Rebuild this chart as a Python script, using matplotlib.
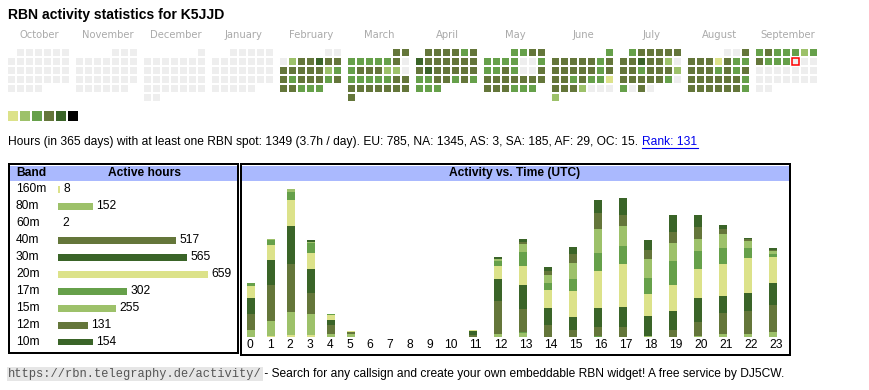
import calendar
import numpy as np
import matplotlib
matplotlib.use("Agg")
import matplotlib.pyplot as plt
from matplotlib.patches import Rectangle
from matplotlib import transforms

plt.rcParams['font.family'] = ['Liberation Sans', 'DejaVu Sans']

W, H = 870, 390
PT = 0.72  # pixels -> points at dpi 100

# ---- data ----
callsign = "K5JJD"
month_names = ["October", "November", "December", "January", "February", "March",
               "April", "May", "June", "July", "August", "September"]
month_years = [(2024, 10), (2024, 11), (2024, 12), (2025, 1), (2025, 2), (2025, 3),
               (2025, 4), (2025, 5), (2025, 6), (2025, 7), (2025, 8), (2025, 9)]
# activity level per day (0 = none, 1..5 = legend colours)
month_levels = [
    "0" * 31,
    "0" * 30,
    "0" * 31,
    "0" * 31,
    "00" + "0244544" + "4444423" + "4344434" + "44333",
    "44" + "3333340" + "3444220" + "3333344" + "4444444" + "4",
    "444434" + "5444444" + "4544444" + "3344343" + "333",
    "3344" + "3333003" + "3343004" + "4444444" + "444333",
    "3" + "4444434" + "4444434" + "4434331" + "4442000" + "2",
    "344444" + "4454420" + "4434442" + "4444430" + "3040",
    "004" + "4441433" + "4443434" + "4444443" + "4444443",
    "3433323" + "4333000" + "0" * 16,
]
today = (2025, 9, 12)
level_colors = ['#eeeeee', '#dce28a', '#9dc16a', '#66a04a', '#64763a', '#3a6428', '#000000']

summary = ("Hours (in 365 days) with at least one RBN spot: 1349 (3.7h / day). "
           "EU: 785, NA: 1345, AS: 3, SA: 185, AF: 29, OC: 15. ")
rank_text = "Rank: 131"

bands = ["160m", "80m", "60m", "40m", "30m", "20m", "17m", "15m", "12m", "10m"]
band_hours = [8, 152, 2, 517, 565, 659, 302, 255, 131, 154]
band_colors = ['#dce28a', '#9dc16a', '#66a04a', '#64763a', '#3a6428',
               '#dce28a', '#66a04a', '#9dc16a', '#64763a', '#3a6428']

hours = np.arange(24)
h160 = [0, 1, 4, 3, 0, 0, 0, 0, 0, 0, 0, 0, 0, 0, 0, 0, 0, 0, 0, 0, 0, 0, 0, 0]
h80 = [12, 25, 37, 34, 5, 5, 0, 0, 0, 0, 0, 0, 5, 7, 0, 0, 0, 0, 2, 0, 2, 5, 5, 8]
h60 = [0, 0, 0, 0, 0, 0, 0, 0, 0, 0, 0, 0, 0, 1, 0, 0, 1, 0, 0, 0, 0, 0, 0, 0]
h40 = [26, 58, 77, 34, 14, 3, 0, 0, 0, 0, 0, 4, 54, 37, 19, 11, 16, 16, 0, 11, 22, 34, 37, 44]
h30 = [26, 41, 62, 39, 8, 0, 0, 0, 0, 0, 0, 5, 36, 39, 28, 22, 30, 33, 32, 31, 39, 28, 30, 36]
h20 = [19, 25, 43, 27, 8, 2, 0, 0, 0, 0, 0, 3, 21, 32, 30, 41, 60, 70, 36, 43, 48, 52, 57, 42]
h17 = [5, 8, 13, 15, 2, 0, 0, 0, 0, 0, 0, 0, 8, 22, 11, 21, 29, 29, 26, 38, 29, 26, 15, 5]
h15 = [0, 2, 4, 3, 0, 0, 0, 0, 0, 0, 0, 0, 3, 13, 12, 25, 40, 33, 30, 30, 20, 23, 12, 5]
h12 = [0, 0, 0, 0, 0, 0, 0, 0, 0, 0, 0, 0, 0, 3, 7, 15, 25, 18, 15, 18, 18, 7, 3, 2]
h10 = [0, 0, 0, 2, 0, 0, 0, 0, 0, 0, 0, 0, 3, 5, 7, 12, 22, 27, 17, 28, 20, 7, 2, 2]
hourly = [h160, h80, h60, h40, h30, h20, h17, h15, h12, h10]


def px_rect(x, y, w, h):
    return [x / W, 1 - (y + h) / H, w / W, h / H]


fig = plt.figure(figsize=(W / 100, H / 100), dpi=100)
canvas = fig.add_axes([0, 0, 1, 1])
canvas.set_xlim(0, W)
canvas.set_ylim(H, 0)
canvas.axis('off')

# title
canvas.text(8, 15, f"RBN activity statistics for {callsign}", fontsize=14 * PT,
            fontweight='bold', va='center', ha='left')

# calendar heatmap
for m, (name, (yr, mo), levels) in enumerate(zip(month_names, month_years, month_levels)):
    x0 = 8 + 68 * m
    canvas.text(x0 + 31.5, 35, name, fontsize=10 * PT, color='#aaaaaa',
                ha='center', va='center', family='DejaVu Sans')
    first_wd, ndays = calendar.monthrange(yr, mo)
    for d in range(ndays):
        idx = first_wd + d
        col, row = idx % 7, idx // 7
        lvl = int(levels[d])
        is_today = (yr, mo, d + 1) == today
        canvas.add_patch(Rectangle((x0 + col * 9, 49 + row * 9), 7, 7,
                                   facecolor=level_colors[lvl],
                                   edgecolor='red' if is_today else 'none',
                                   linewidth=1.1 if is_today else 0))

# legend squares
for i, c in enumerate(level_colors[1:]):
    canvas.add_patch(Rectangle((8 + 12 * i, 111), 10, 10, facecolor=c, edgecolor='none'))

# summary line
t = canvas.text(8, 142, summary, fontsize=12 * PT, va='center', ha='left')
fig.canvas.draw()
r = fig.canvas.get_renderer()
bb = t.get_window_extent(r)
rk = canvas.text(bb.x1 + 1, 142, rank_text, fontsize=12 * PT, va='center', ha='left', color='#0000ee')
bb2 = rk.get_window_extent(r)
canvas.plot([bb2.x0, bb2.x1], [147.5, 147.5], color='#0000ee', lw=0.8)

# table frames and headers
canvas.add_patch(Rectangle((9, 164), 229.5, 188.5, facecolor='none', edgecolor='black', lw=2 * PT))
canvas.add_patch(Rectangle((241, 164), 549, 190.5, facecolor='none', edgecolor='black', lw=2 * PT))
canvas.add_patch(Rectangle((10, 165.5), 227.5, 15.5, facecolor='#aab9fe', edgecolor='none'))
canvas.add_patch(Rectangle((242, 165.5), 547, 15.5, facecolor='#aab9fe', edgecolor='none'))
canvas.text(16, 173.3, "Band", fontsize=12 * PT, fontweight='bold', va='center')
canvas.text(144.5, 173.3, "Active hours", fontsize=12 * PT, fontweight='bold', va='center', ha='center')
canvas.text(514.5, 173.3, "Activity vs. Time (UTC)", fontsize=12 * PT, fontweight='bold',
            va='center', ha='center')

# band bars
ax_b = fig.add_axes(px_rect(58, 180.8, 150, 169.7))
ax_b.barh(range(len(bands)), band_hours, height=0.41, color=band_colors)
ax_b.set_xlim(0, max(band_hours))
ax_b.set_ylim(len(bands) - 0.5, -0.5)
ax_b.axis('off')
lab_tr = transforms.blended_transform_factory(canvas.transData, ax_b.transData)
for i, (b, v) in enumerate(zip(bands, band_hours)):
    ax_b.text(16, i, b, transform=lab_tr, fontsize=12 * PT, va='center', ha='left')
    ax_b.annotate(str(v), (v, i), xytext=(3.5 * PT, 0), textcoords='offset points',
                  fontsize=12 * PT, va='center', ha='left', annotation_clip=False)

# hourly stacked bars
scale = 1.625  # hours per pixel
ax_a = fig.add_axes(px_rect(240, 165, 550, 172))
ax_a.set_xlim(240, 790)
ax_a.set_ylim(0, 172 * scale)
ax_a.axis('off')
bar_x = np.where(hours < 10, 250.8 + 20 * hours, 448.2 + 25 * (hours - 10))
lab_x = np.where(hours < 10, 250 + 20 * hours, 450.7 + 25 * (hours - 10))
bottom = np.zeros(24)
for vals, c in zip(hourly, band_colors):
    ax_a.bar(bar_x, vals, width=8.3, bottom=bottom, color=c, linewidth=0)
    bottom += np.array(vals)
for h, x in zip(hours, lab_x):
    ax_a.text(x, -8.5 * scale, str(h), fontsize=12 * PT, ha='center', va='center', clip_on=False)

# footer
url = canvas.text(8, 374, "https://rbn.telegraphy.de/activity/", fontsize=12 * PT,
                  family='Liberation Mono', color='#555555', va='center', ha='left',
                  bbox=dict(facecolor='#e6e6e6', edgecolor='none', pad=1.0))
fig.canvas.draw()
ub = url.get_window_extent(r)
canvas.text(ub.x1 - 1, 374, " - Search for any callsign and create your own embeddable RBN widget! "
            "A free service by DJ5CW.", fontsize=12 * PT, va='center', ha='left')

fig.savefig("out.png", dpi=100)
